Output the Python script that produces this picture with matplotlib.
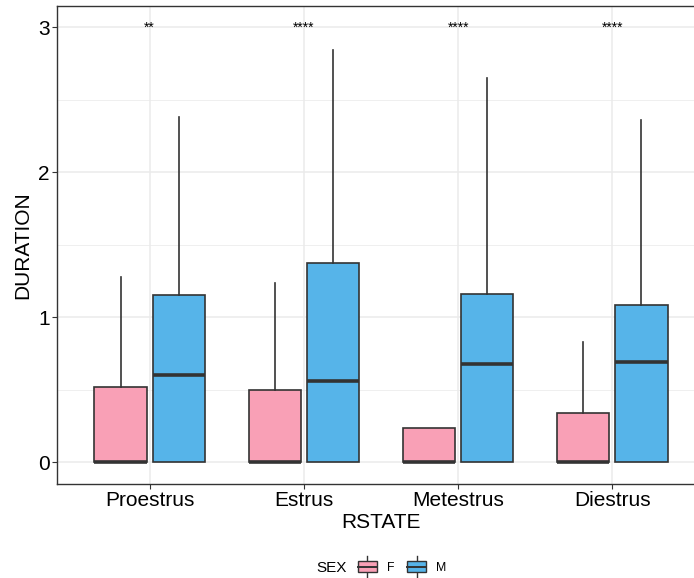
import matplotlib
matplotlib.use('Agg')
import matplotlib.pyplot as plt
from matplotlib.ticker import MultipleLocator
from matplotlib.legend_handler import HandlerBase
from matplotlib.patches import Rectangle
from matplotlib.lines import Line2D

plt.rcParams['font.family'] = ['Liberation Sans', 'DejaVu Sans']

states = ['Proestrus', 'Estrus', 'Metestrus', 'Diestrus']
sexes = ['F', 'M']
signif = ['**', '****', '****', '****']

# box summaries per state (q1, median, q3, whisker ends)
f_lo = [0, 0, 0, 0]
f_q1 = [0, 0, 0, 0]
f_med = [0, 0, 0, 0]
f_q3 = [0.517, 0.50, 0.237, 0.338]
f_hi = [1.276, 1.235, 0.237, 0.828]

m_lo = [0, 0, 0, 0]
m_q1 = [0, 0, 0, 0]
m_med = [0.60, 0.559, 0.68, 0.69]
m_q3 = [1.156, 1.372, 1.161, 1.087]
m_hi = [2.379, 2.843, 2.648, 2.36]

fill = {'F': '#F9A0B6', 'M': '#56B4E9'}
edge = '#333333'
grid_col = '#EBEBEB'


def make_stats(lo, q1, med, q3, hi):
    return [dict(whislo=a, q1=b, med=c, q3=d, whishi=e, fliers=[])
            for a, b, c, d, e in zip(lo, q1, med, q3, hi)]


class HandlerBox(HandlerBase):
    # ggplot-style boxplot key glyph
    def create_artists(self, legend, orig_handle, xdescent, ydescent,
                       width, height, fontsize, trans):
        cy = height / 2 - ydescent
        hb = 3.8
        x0 = -xdescent
        rect = Rectangle((x0, cy - hb), width, 2 * hb,
                         facecolor=orig_handle.get_facecolor(),
                         edgecolor=edge, linewidth=1.0, transform=trans)
        mid = Line2D([x0, x0 + width], [cy, cy], color=edge, lw=1.4,
                     transform=trans)
        wu = Line2D([x0 + width / 2] * 2, [cy + hb, cy + 2 * hb], color=edge,
                    lw=1.0, transform=trans)
        wd = Line2D([x0 + width / 2] * 2, [cy - hb, cy - 2 * hb], color=edge,
                    lw=1.0, transform=trans)
        return [wu, wd, rect, mid]


W, H = 694, 578
fig = plt.figure(figsize=(W / 100, H / 100), dpi=100)
ax = fig.add_axes([57 / W, (H - 484) / H, (705 - 57) / W, (484 - 6) / H])

pos = list(range(len(states)))
off = 0.188
bw = 0.338
common = dict(widths=bw, patch_artist=True, showfliers=False, showcaps=False,
              medianprops=dict(color=edge, linewidth=2.6),
              whiskerprops=dict(color=edge, linewidth=1.2))

ax.bxp(make_stats(f_lo, f_q1, f_med, f_q3, f_hi),
       positions=[p - off for p in pos],
       boxprops=dict(facecolor=fill['F'], edgecolor=edge, linewidth=1.2),
       **common)
ax.bxp(make_stats(m_lo, m_q1, m_med, m_q3, m_hi),
       positions=[p + off for p in pos],
       boxprops=dict(facecolor=fill['M'], edgecolor=edge, linewidth=1.2),
       **common)

# significance labels
for p, s in zip(pos, signif):
    ax.text(p, 2.97, s, ha='center', va='baseline', fontsize=10)

ax.set_xlim(-0.6, 3.6)
ax.set_ylim(-0.15, 3.147)
ax.set_xticks(pos, states)
ax.set_yticks([0, 1, 2, 3])
ax.yaxis.set_minor_locator(MultipleLocator(0.5))
ax.set_axisbelow(True)
ax.grid(which='major', color=grid_col, linewidth=1.1)
ax.grid(which='minor', axis='y', color=grid_col, linewidth=0.55)

ax.tick_params(which='major', labelsize=15, length=3.3, width=0.8,
               color=edge, labelcolor='black', pad=2)
ax.tick_params(which='minor', length=0)
for side in ['left', 'bottom', 'top']:
    ax.spines[side].set_color(edge)
    ax.spines[side].set_linewidth(1.0)
ax.spines['right'].set_visible(False)

ax.set_xlabel('RSTATE', fontsize=15, labelpad=2)
ax.set_ylabel('DURATION', fontsize=15, labelpad=4)

# legend at the bottom
fig.text(316 / W, 1 - 568 / H, 'SEX', fontsize=11, va='center', ha='left')
handles = [Rectangle((0, 0), 1, 1, facecolor=fill[s]) for s in sexes]
fig.legend(handles, sexes, handler_map={Rectangle: HandlerBox()},
           loc='center', bbox_to_anchor=(402 / W, 1 - 568 / H), ncol=2,
           frameon=False, fontsize=8.8, handlelength=1.55, handletextpad=0.8,
           columnspacing=1.05, borderpad=0, borderaxespad=0)

fig.savefig('out.png', dpi=100)
